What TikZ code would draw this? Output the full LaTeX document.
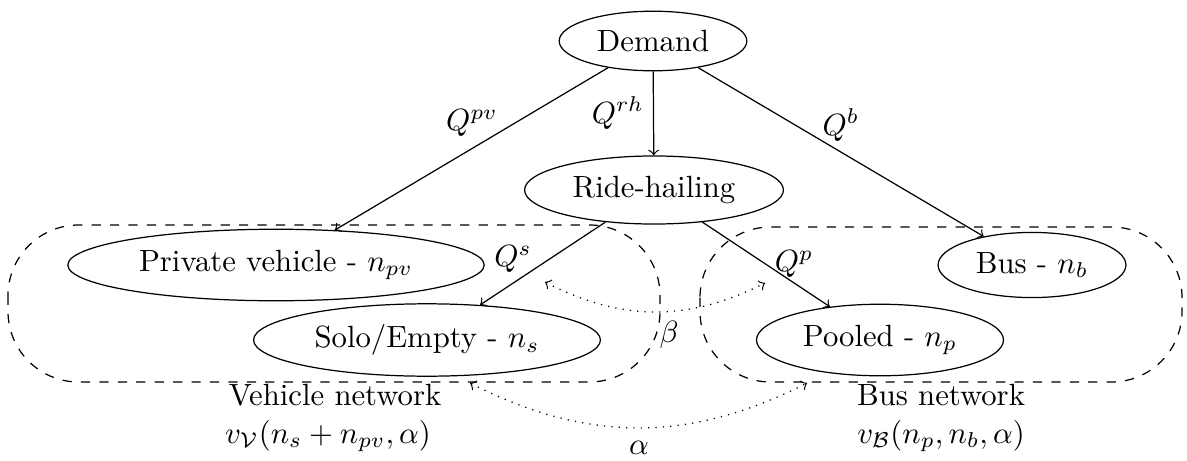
\documentclass[tikz,border=0pt]{standalone}
\usetikzlibrary{shapes.geometric}
\begin{document}
\begin{tikzpicture}[x=0.3256pt,y=-0.3256pt,
  st/.style={draw,ellipse},
  flow/.style={->},
  netbox/.style={draw,dashed,rounded corners=23pt},
  link/.style={<->,dotted},
  lbl/.style={inner sep=0pt}]
\useasboundingbox (0,0) rectangle (1187,460);
% network boxes
\draw[netbox] (8,225) rectangle (660,382);
\draw[netbox] (700,227) rectangle (1182,382);
% nodes
\node[st] (demand) at (653,41) {Demand};
\node[st] (ride) at (654,190) {Ride-hailing};
\node[st] (pv) at (276,265) {Private vehicle - $n_{pv}$};
\node[st] (solo) at (427,340) {Solo/Empty - $n_s$};
\node[st] (pooled) at (880,340) {Pooled - $n_p$};
\node[st] (bus) at (1032,265) {Bus - $n_b$};
% flows
\draw[flow] (demand) -- (pv);
\draw[flow] (demand) -- (ride);
\draw[flow] (demand) -- (bus);
\draw[flow] (ride) -- (solo);
\draw[flow] (ride) -- (pooled);
% flow labels
\node[lbl] (qpv) at (472,123) {$Q^{pv}$};
\node[lbl] (qrh) at (618,113) {$Q^{rh}$};
\node[lbl] (qb) at (841,125) {$Q^{b}$};
\node[lbl] (qs) at (513,259) {$Q^{s}$};
\node[lbl] (qp) at (794,264) {$Q^{p}$};
% dotted couplings
\coordinate (b1) at (545,282);
\coordinate (b2) at (765,283);
\coordinate (a1) at (470,383);
\coordinate (a2) at (807,383);
\draw[link] (b1) to[bend right=27] (b2);
\draw[link] (a1) to[bend right=27] (a2);
\node[lbl] (beta) at (669,335) {$\beta$};
\node[lbl] (alpha) at (639,448) {$\alpha$};
% network captions
\node[lbl] (vnet) at (335,395) {Vehicle network};
\node[lbl] (vfun) at (328,436) {$v_{\mathcal{V}}(n_s+n_{pv},\alpha)$};
\node[lbl] (bnet) at (941,395) {Bus network};
\node[lbl] (bfun) at (941,436) {$v_{\mathcal{B}}(n_p,n_b,\alpha)$};
\end{tikzpicture}
\end{document}
